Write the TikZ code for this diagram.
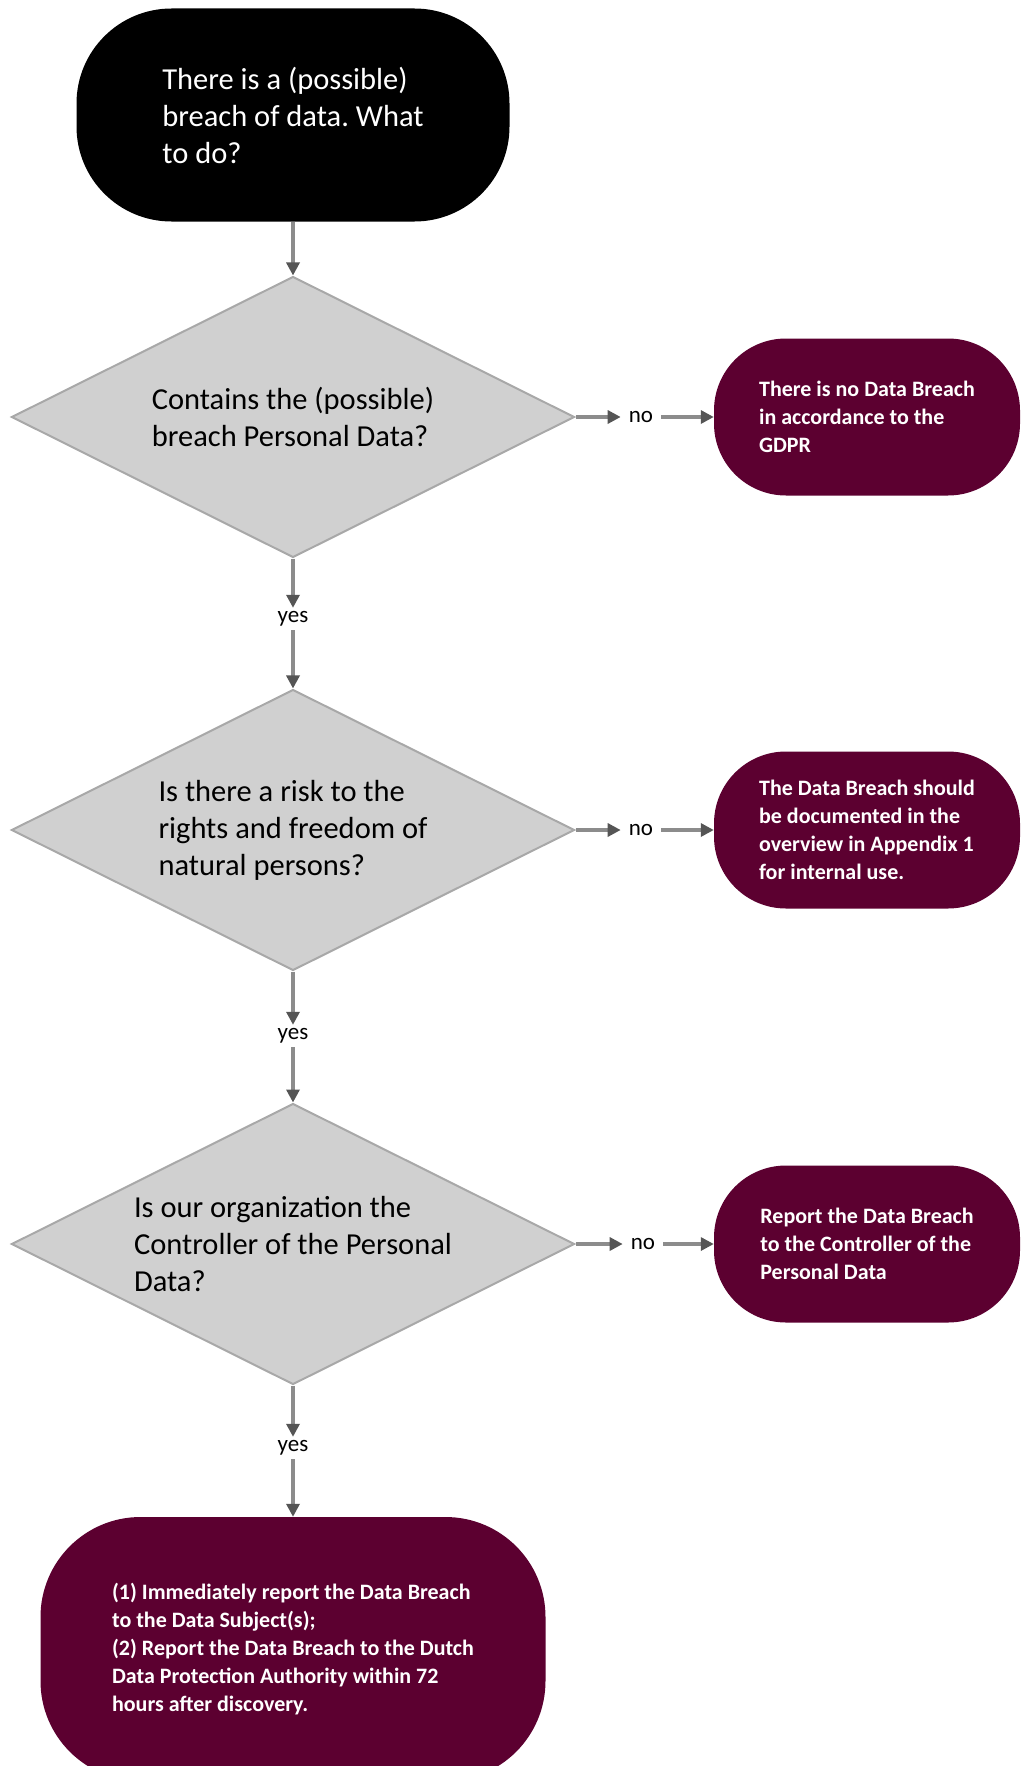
\documentclass[tikz,border=0pt]{standalone}
\usepackage{fontspec}
\setmainfont{Carlito}
\usetikzlibrary{shapes.geometric,arrows.meta}
\frenchspacing

\definecolor{breachred}{HTML}{5C0030}
\definecolor{diafill}{HTML}{D0D0D0}
\definecolor{diaborder}{HTML}{A8A8A8}
\definecolor{linegrey}{HTML}{8C8C8C}
\definecolor{tipgrey}{HTML}{555555}

\begin{document}
\begin{tikzpicture}[
  x=1pt, y=-1pt,
  start/.style={
    fill=black, text=white, rectangle, rounded corners=95pt,
    minimum width=433pt, minimum height=213pt,
    font=\fontsize{30.5}{37}\selectfont, align=left, inner sep=0pt
  },
  question/.style={
    draw=diaborder, line width=2pt, fill=diafill, diamond, aspect=2,
    minimum width=563pt, minimum height=281pt,
    font=\fontsize{30.5}{37}\selectfont, align=left, inner sep=0pt
  },
  outcome/.style={
    fill=breachred, text=white, rectangle, rounded corners=72pt,
    minimum width=306pt, minimum height=157pt,
    font=\fontsize{22}{28}\selectfont\bfseries, align=left, inner sep=0pt
  },
  final/.style={
    fill=breachred, text=white, rectangle, rounded corners=100pt,
    minimum width=505pt, minimum height=264pt,
    font=\fontsize{22}{28}\selectfont\bfseries, align=left, inner sep=0pt
  },
  answer/.style={
    font=\fontsize{23}{27}\selectfont, inner xsep=8pt, inner ysep=0pt,
    minimum height=22pt
  },
  arr/.style={-{Triangle[length=13pt,width=13pt,color=tipgrey]},
    line width=3.2pt, draw=linegrey},
]
\useasboundingbox (0,0) rectangle (1021,1766);
\clip (0,0) rectangle (1021,1766);

\node[start]    (begin) at (293, 115) {There is a (possible)\\breach of data. What\\to do?};

\node[question] (q1) at (293, 417) {Contains the (possible)\\breach Personal Data?};
\node[question] (q2) at (293, 830) {Is there a risk to the\\rights and freedom of\\natural persons?};
\node[question] (q3) at (293, 1244) {Is our organization the\\Controller of the Personal\\Data?};

\node[outcome]  (nobreach) at (867, 417) {There is no Data Breach\\in accordance to the\\GDPR};
\node[outcome]  (document) at (867, 830) {The Data Breach should\\be documented in the\\overview in Appendix 1\\for internal use.};
\node[outcome]  (tocontrol) at (867, 1244) {Report the Data Breach\\to the Controller of the\\Personal Data};

\node[final]    (report) at (293, 1649) {(1) Immediately report the Data Breach\\to the Data Subject(s);\\(2) Report the Data Breach to the Dutch\\Data Protection Authority within 72\\hours after discovery.};

\node[answer] (no1)  at (641, 417)  {no};
\node[answer] (no2)  at (641, 830)  {no};
\node[answer] (no3)  at (643, 1244) {no};
\node[answer] (yes1) at (293, 619)  {yes};
\node[answer] (yes2) at (293, 1036) {yes};
\node[answer] (yes3) at (293, 1448) {yes};

\draw[arr] (begin) -- (q1);
\draw[arr] (q1)   -- (yes1);
\draw[arr] (yes1) -- (q2);
\draw[arr] (q2)   -- (yes2);
\draw[arr] (yes2) -- (q3);
\draw[arr] (q3)   -- (yes3);
\draw[arr] (yes3) -- (report);
\draw[arr] (q1)   -- (no1);
\draw[arr] (no1)  -- (nobreach);
\draw[arr] (q2)   -- (no2);
\draw[arr] (no2)  -- (document);
\draw[arr] (q3)   -- (no3);
\draw[arr] (no3)  -- (tocontrol);

\end{tikzpicture}
\end{document}
